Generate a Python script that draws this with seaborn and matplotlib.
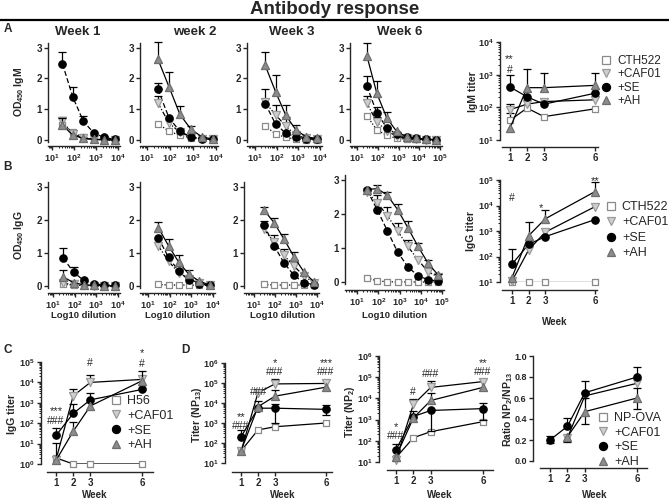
import numpy as np
import pandas as pd
import matplotlib
matplotlib.use("Agg")
import matplotlib.pyplot as plt
import seaborn as sns
from matplotlib.lines import Line2D
from matplotlib import ticker

sns.set_theme(style="ticks")
plt.rcParams['font.family'] = ['Liberation Sans', 'DejaVu Sans']
plt.rcParams['mathtext.fontset'] = 'custom'
plt.rcParams['mathtext.rm'] = 'Liberation Sans:bold'
plt.rcParams['mathtext.bf'] = 'Liberation Sans:bold'
plt.rcParams['mathtext.it'] = 'Liberation Sans:bold'

# ---------------- data ----------------
groups = ["CTH522", "+CAF01", "+SE", "+AH"]
groups_c = ["H56", "+CAF01", "+SE", "+AH"]
groups_d = ["NP-OVA", "+CAF01", "+SE", "+AH"]
dil6 = [30, 90, 270, 810, 2430, 7290]
dil8 = [30, 90, 270, 810, 2430, 7290, 21870, 65610]
weeks = [1, 2, 3, 6]

# A: OD450 IgM (mean, upper error bar end)
igm_w1 = {"CTH522": [0.50, 0.25, 0.08, 0.03, 0.01, 0.0],
          "+CAF01": [0.60, 0.20, 0.05, 0.02, 0.0, 0.0],
          "+SE": [2.47, 1.38, 0.60, 0.22, 0.08, 0.02],
          "+AH": [0.48, 0.15, 0.05, 0.02, 0.01, 0.0]}
igm_w1_err = {"+CAF01": [0.75, None, None, None, None, None],
              "+SE": [2.85, 1.72, 0.77, None, None, None],
              "+AH": [0.70, None, None, None, None, None]}
igm_w2 = {"CTH522": [0.53, 0.28, 0.15, 0.07, 0.03, 0.02],
          "+CAF01": [1.20, 0.55, 0.25, 0.10, 0.04, 0.02],
          "+SE": [1.65, 0.72, 0.28, 0.10, 0.04, 0.02],
          "+AH": [2.62, 1.73, 0.83, 0.35, 0.10, 0.03]}
igm_w2_err = {"+CAF01": [1.42, None, None, None, None, None],
              "+SE": [1.85, None, None, None, None, None],
              "+AH": [3.17, 2.20, 1.10, 0.45, None, None]}
igm_w3 = {"CTH522": [0.45, 0.20, 0.08, 0.03, 0.01, 0.01],
          "+CAF01": [1.22, 0.82, 0.45, 0.15, 0.06, 0.03],
          "+SE": [1.18, 0.52, 0.22, 0.10, 0.03, 0.02],
          "+AH": [2.42, 1.57, 0.80, 0.32, 0.10, 0.05]}
igm_w3_err = {"+CAF01": [1.65, 1.12, 0.75, None, None, None],
              "+AH": [2.85, 2.10, 1.15, 0.50, None, None]}
igm_w6 = {"CTH522": [0.78, 0.33, 0.15, 0.05, 0.03, 0.02, 0.01, 0.0],
          "+CAF01": [1.20, 0.58, 0.30, 0.12, 0.05, 0.02, 0.01, 0.01],
          "+SE": [1.75, 0.88, 0.40, 0.18, 0.08, 0.05, 0.02, 0.01],
          "+AH": [2.73, 1.52, 0.72, 0.28, 0.10, 0.05, 0.02, 0.01]}
igm_w6_err = {"+CAF01": [1.42, 0.75, None, None, None, None, None, None],
              "+SE": [2.07, 1.08, None, None, None, None, None, None],
              "+AH": [3.15, 1.90, 0.90, None, None, None, None, None]}

# A: IgM titer
igm_titer = {"CTH522": [40, 95, 52, 90],
             "+CAF01": [85, 125, 150, 170],
             "+SE": [420, 210, 125, 270],
             "+AH": [23, 400, 400, 470]}
igm_titer_err = {"CTH522": [65, None, None, None],
                 "+CAF01": [125, None, None, None],
                 "+SE": [950, None, None, None],
                 "+AH": [None, 1500, 1100, 1100]}

# B: OD450 IgG
igg_w1 = {"CTH522": [0.05, 0.03, 0.02, 0.01, 0.0, 0.0],
          "+CAF01": [0.08, 0.05, 0.02, 0.01, 0.0, 0.0],
          "+SE": [0.85, 0.42, 0.17, 0.07, 0.03, 0.02],
          "+AH": [0.28, 0.10, 0.04, 0.02, 0.01, 0.0]}
igg_w1_err = {"+SE": [1.15, 0.58, None, None, None, None],
              "+AH": [0.50, None, None, None, None, None]}
igg_w2 = {"CTH522": [0.05, 0.03, 0.03, 0.03, 0.02, 0.02],
          "+CAF01": [1.22, 0.75, 0.40, 0.22, 0.08, 0.03],
          "+SE": [1.46, 0.87, 0.45, 0.17, 0.06, 0.02],
          "+AH": [1.77, 1.22, 0.72, 0.35, 0.15, 0.03]}
igg_w2_err = {"+AH": [1.95, 1.42, 0.93, 0.50, None, None]}
igg_w3 = {"CTH522": [0.05, 0.03, 0.03, 0.03, 0.03, 0.03],
          "+CAF01": [1.72, 1.33, 0.93, 0.60, 0.30, 0.10],
          "+SE": [1.85, 1.22, 0.70, 0.32, 0.10, 0.04],
          "+AH": [2.30, 1.92, 1.42, 0.88, 0.42, 0.12]}
igg_w3_err = {"+CAF01": [None, 1.55, 1.13, 0.80, None, None],
              "+SE": [1.98, None, None, None, None, None],
              "+AH": [2.40, 2.07, 1.58, 1.03, None, None]}
igg_w6 = {"CTH522": [0.12, 0.03, 0.01, 0.0, 0.0, 0.0, 0.0, 0.0],
          "+CAF01": [2.65, 2.33, 1.95, 1.50, 1.05, 0.65, 0.30, 0.15],
          "+SE": [2.70, 2.12, 1.50, 0.88, 0.45, 0.18, 0.07, 0.02],
          "+AH": [2.72, 2.75, 2.55, 2.13, 1.60, 1.05, 0.55, 0.20]}
igg_w6_err = {"+CAF01": [None, 2.55, 2.20, 1.75, 1.25, 0.75, 0.40, None],
              "+AH": [None, 2.85, 2.65, 2.30, 1.80, 1.15, 0.65, 0.25]}

# B: IgG titer
igg_titer = {"CTH522": [10, 10, 10, 10],
             "+CAF01": [11, 180, 900, 9000],
             "+SE": [50, 300, 600, 2800],
             "+AH": [15, 650, 3000, 35000]}
igg_titer_err = {"+SE": [190, None, None, None],
                 "+AH": [None, 2200, 6500, 80000]}

# C: IgG titer (H56)
c_titer = {"H56": [2.0, 1.0, 1.0, 1.0],
           "+CAF01": [1.6, 2200, 10000, 14000],
           "+SE": [25, 300, 1400, 4500],
           "+AH": [1.5, 40, 700, 12000]}
c_titer_err = {"+CAF01": [None, 4500, 22000, None],
               "+SE": [60, 900, 3000, None],
               "+AH": [11, 110, None, 35000]}

# D: NP13 titer, NP2 titer, ratio
np13 = {"NP-OVA": [40, 450, 650, 1000],
        "+CAF01": [38, 33000, 90000, 95000],
        "+SE": [200, 5500, 5500, 4800],
        "+AH": [40, 6500, 22000, 62000]}
np13_err = {"+CAF01": [None, None, 160000, None],
            "+SE": [450, None, 9000, 8000],
            "+AH": [None, 12000, 45000, None]}
np13_lo = {"+SE": [None, None, 1000, 2500]}
np2 = {"NP-OVA": [16, 140, 270, 800],
       "+CAF01": [13, 5200, 33000, 62000],
       "+SE": [38, 1400, 2700, 3300],
       "+AH": [18, 1200, 8000, 33000]}
np2_err = {"+CAF01": [None, 9000, 65000, None],
           "+SE": [70, None, None, 6000],
           "+AH": [None, 2500, 18000, None]}
np2_lo = {"+SE": [None, None, 300, 1000]}
ratio = {"NP-OVA": [None, None, None, None],
         "+CAF01": [None, 0.22, 0.62, 0.74],
         "+SE": [0.20, 0.33, 0.65, 0.80],
         "+AH": [None, 0.23, 0.47, 0.60]}
ratio_err = {"+SE": [0.24, 0.41, 0.76, 0.90],
             "+AH": [None, None, 0.60, 0.70]}
ratio_lo = {"+SE": [0.17, None, None, None],
            "+AH": [None, 0.18, 0.35, 0.50]}

# ---------------- styles ----------------
W, H = 669, 501
fig = plt.figure(figsize=(W / 100, H / 100), dpi=100)

styles = [
    dict(marker='s', mfc='white', mec='#8a8a8a', ms=5.0, ls=(0, (1, 1.5)), z=3),
    dict(marker='v', mfc='#cfcfcf', mec='#9a9a9a', ms=5.8, ls=(0, (4, 1.5, 1, 1.5)), z=4),
    dict(marker='o', mfc='black', mec='black', ms=5.3, ls=(0, (4, 2)), z=5),
    dict(marker='^', mfc='#8c8c8c', mec='#6e6e6e', ms=5.8, ls='-', z=6),
]
TICKFS = 7
BOLD = 'bold'


def px_axes(x0, top, width, bottom):
    return fig.add_axes([x0 / W, 1 - bottom / H, width / W, (bottom - top) / H])


def style_axes(ax, offset_px):
    sns.despine(ax=ax, offset={'bottom': offset_px * 0.72, 'left': 0})
    ax.spines['left'].set_linewidth(1.0)
    ax.spines['bottom'].set_linewidth(1.0)
    ax.tick_params(axis='both', which='major', length=3, width=1.0, labelsize=TICKFS, pad=1.5)
    ax.tick_params(axis='both', which='minor', length=1.5, width=0.7)
    for lab in ax.get_xticklabels() + ax.get_yticklabels():
        lab.set_fontweight(BOLD)
    ax.set_facecolor('none')
    ax.grid(False)


def draw_series(ax, x, y, st, hi=None, lo=None, dashed=True):
    x = np.asarray(x, float)
    y = np.array([np.nan if v is None else v for v in y], float)
    df = pd.DataFrame({'x': x, 'y': y}).dropna()
    sns.lineplot(data=df, x='x', y='y', ax=ax, color='black', lw=0.9,
                 linestyle=st['ls'] if dashed else '-', zorder=st['z'] - 2,
                 legend=False, errorbar=None)
    for arr in (hi, lo):
        if arr is None:
            continue
        for xi, yi, ei in zip(x, y, arr):
            if ei is None or np.isnan(yi):
                continue
            ax.plot([xi, xi], [yi, ei], color='black', lw=0.9, zorder=st['z'] - 1, clip_on=False)
            ax.plot([xi], [ei], marker='_', ms=5.5, mew=0.9, color='black',
                    zorder=st['z'] - 1, clip_on=False)
    sns.scatterplot(x=df['x'], y=df['y'], ax=ax, marker=st['marker'], s=st['ms'] ** 2,
                    color=st['mfc'], edgecolor=st['mec'], linewidth=0.9, zorder=st['z'],
                    legend=False, clip_on=False)


def dilution_panel(x0, p1, d, xmaxlog, top, bottom, offset, data, errs, dil, gnames):
    lo = 1 - (p1 - x0) / d
    width = (xmaxlog - lo) * d
    ax = px_axes(x0, top, width, bottom)
    for g, st in zip(gnames, styles):
        draw_series(ax, dil, data[g], st, hi=errs.get(g))
    ax.set_xscale('log')
    ax.set_xlim(10 ** lo, 10 ** xmaxlog)
    ax.set_ylim(-0.05, 3.15)
    ax.set_yticks([0, 1, 2, 3])
    ax.set_yticklabels(['0', '1', '2', '3'])
    top_dec = int(round(xmaxlog - 0.1))
    ax.set_xticks([10 ** k for k in range(1, top_dec + 1)])
    ax.xaxis.set_major_formatter(ticker.LogFormatterSciNotation())
    ax.xaxis.set_minor_locator(ticker.LogLocator(subs=np.arange(2, 10), numticks=20))
    ax.xaxis.set_minor_formatter(ticker.NullFormatter())
    ax.set_xlabel('')
    ax.set_ylabel('')
    style_axes(ax, offset)
    ax.tick_params(axis='x', labelsize=6.5)
    return ax


def titer_panel(x0, tick1, pw, top, bottom, offset, yl, spine, data, errs, gnames,
                lows=None, log=True, yticks=None, ylabels=None):
    lo = 1 - (tick1 - x0) / pw
    hi_lim = 6.9
    width = (hi_lim - lo) * pw
    ax = px_axes(x0, top, width, bottom)
    for g, st in zip(gnames, styles):
        draw_series(ax, weeks, data[g], st, hi=errs.get(g),
                    lo=(lows or {}).get(g), dashed=False)
    ax.set_xlim(lo, hi_lim)
    if log:
        ax.set_yscale('log')
    ax.set_ylim(*yl)
    if yticks is not None:
        ax.set_yticks(yticks)
    if ylabels is not None:
        ax.set_yticklabels(ylabels)
    if log:
        ax.yaxis.set_major_formatter(ticker.LogFormatterSciNotation())
        ax.yaxis.set_minor_locator(ticker.LogLocator(subs=np.arange(2, 10), numticks=20))
        ax.yaxis.set_minor_formatter(ticker.NullFormatter())
    ax.set_xticks(weeks)
    ax.set_xticklabels([str(w) for w in weeks])
    ax.set_xlabel('')
    ax.set_ylabel('')
    style_axes(ax, offset)
    ax.spines['bottom'].set_bounds(*spine)
    ax.tick_params(axis='y', labelsize=6.5)
    return ax


def ftext(x, y, s, **kw):
    kw.setdefault('ha', 'center')
    kw.setdefault('va', 'center')
    fig.text(x / W, 1 - y / H, s, **kw)


# ---------------- title ----------------
ftext(335, 9, 'Antibody response', fontsize=13.5, fontweight='bold')
fig.add_artist(Line2D([0, 1], [1 - 20 / H, 1 - 20 / H], color='black', lw=1.6))

# ---------------- row A ----------------
dilution_panel(48, 52, 22, 4.1, 43, 141.5, 4.5, igm_w1, igm_w1_err, dil6, groups)
dilution_panel(140, 147, 23, 4.1, 43, 141.5, 4.5, igm_w2, igm_w2_err, dil6, groups)
dilution_panel(247, 255, 21.5, 4.1, 43, 141.5, 4.5, igm_w3, igm_w3_err, dil6, groups)
dilution_panel(350, 357, 20.75, 5.1, 43, 141.5, 4.5, igm_w6, igm_w6_err, dil8, groups)
for x, t in ((78, 'Week 1'), (195, 'week 2'), (292, 'Week 3'), (400, 'Week 6')):
    ftext(x, 32, t, fontsize=9.5, fontweight='bold')
ftext(8, 29, 'A', fontsize=8.5, fontweight='bold')
ftext(19, 92, r'OD$_{450}$ IgM', fontsize=7.5, fontweight='bold', rotation=90)

titer_panel(500, 510, 17, 42, 140, 7, (10, 1e4), (0.5, 6.2), igm_titer, igm_titer_err,
            groups, yticks=[10, 100, 1000, 10000])
ftext(473, 92, 'IgM titer', fontsize=7.5, fontweight='bold', rotation=90)
ftext(509.5, 59, '**', fontsize=8)
ftext(509.5, 70, '#', fontsize=7.5)

# ---------------- row B ----------------
dilution_panel(48, 53, 21.5, 4.1, 182, 287.7, 5.3, igg_w1, igg_w1_err, dil6, groups)
dilution_panel(140, 148, 21.5, 4.1, 182, 287.7, 5.3, igg_w2, igg_w2_err, dil6, groups)
dilution_panel(244, 254, 21, 4.1, 182, 287.7, 5.3, igg_w3, igg_w3_err, dil6, groups)
dilution_panel(345, 357, 21.3, 5.1, 175, 283.7, 6.3, igg_w6, igg_w6_err, dil8, groups)
for x in (84, 178, 283, 395):
    ftext(x, 316, 'Log10 dilution', fontsize=6.8, fontweight='bold')
ftext(8, 167, 'B', fontsize=8.5, fontweight='bold')
ftext(19, 235, r'OD$_{450}$ IgG', fontsize=7.5, fontweight='bold', rotation=90)

titer_panel(500, 512, 16.6, 180, 282, 8, (10, 1e5), (0.4, 6.12), igg_titer, igg_titer_err,
            groups, yticks=[10, 100, 1000, 1e4, 1e5])
ftext(471, 231, 'IgG titer', fontsize=7.5, fontweight='bold', rotation=90)
ftext(555, 322, 'Week', fontsize=7, fontweight='bold')
ftext(512, 198, '#', fontsize=7.5)
ftext(541, 208, '*', fontsize=8)
ftext(595, 181, '**', fontsize=8)

# ---------------- row C ----------------
titer_panel(41, 56, 17.2, 362, 464, 8, (1, 1e5), (0.48, 6.64), c_titer, c_titer_err,
            groups_c, yticks=[1, 10, 100, 1000, 1e4, 1e5])
ftext(8, 350, 'C', fontsize=8.5, fontweight='bold')
ftext(12, 414, 'IgG titer', fontsize=7.5, fontweight='bold', rotation=90)
ftext(95, 495, 'Week', fontsize=7, fontweight='bold')
ftext(56, 411, '***', fontsize=8)
ftext(56, 421, '###', fontsize=7.5)
ftext(90, 363, '#', fontsize=7.5)
ftext(142, 353, '*', fontsize=8)
ftext(142, 364, '#', fontsize=7.5)

# ---------------- row D ----------------
titer_panel(225, 241, 17, 363, 463, 9, (10, 1e6), (0.47, 6.35), np13, np13_err,
            groups_d, lows=np13_lo, yticks=[10, 100, 1000, 1e4, 1e5, 1e6])
ftext(185, 350, 'D', fontsize=8.5, fontweight='bold')
ftext(197, 415, r'Titer (NP$_{13}$)', fontsize=7.5, fontweight='bold', rotation=90)
ftext(283, 495, 'Week', fontsize=7, fontweight='bold')
ftext(241, 417, '**', fontsize=8)
ftext(241, 426, '###', fontsize=7.5)
ftext(259, 392, '###', fontsize=7.5)
ftext(275, 363, '*', fontsize=8)
ftext(275, 372, '###', fontsize=7.5)
ftext(326, 363, '***', fontsize=8)
ftext(326, 372, '###', fontsize=7.5)

titer_panel(379, 396, 17.4, 356, 462, 8, (10, 1e6), (0.48, 6.57), np2, np2_err,
            groups_d, lows=np2_lo, yticks=[10, 100, 1000, 1e4, 1e5, 1e6])
ftext(350, 412, r'Titer (NP$_{2}$)', fontsize=7.5, fontweight='bold', rotation=90)
ftext(440, 495, 'Week', fontsize=7, fontweight='bold')
ftext(396, 427, '*', fontsize=8)
ftext(396, 436, '###', fontsize=7.5)
ftext(413, 392, '#', fontsize=7.5)
ftext(431, 374, '###', fontsize=7.5)
ftext(483, 363, '**', fontsize=8)
ftext(483, 372, '###', fontsize=7.5)

titer_panel(533, 550, 17.4, 356, 461, 7, (0, 1.0), (0.43, 6.57), ratio, ratio_err,
            groups_d, lows=ratio_lo, log=False, yticks=[0, 0.2, 0.4, 0.6, 0.8, 1.0],
            ylabels=['0.0', '0.2', '0.4', '0.6', '0.8', '1.0'])
ftext(508, 410, r'Ratio NP$_{2}$/NP$_{13}$', fontsize=7.5, fontweight='bold', rotation=90)
ftext(595, 495, 'Week', fontsize=7, fontweight='bold')


# ---------------- legends ----------------
def make_legend(names, x, y, fs=8.5, spacing=0.15):
    handles = [Line2D([], [], ls='none', marker=st['marker'], mfc=st['mfc'], mec=st['mec'],
                      ms=st['ms'] * 1.1, mew=0.9) for st in styles]
    fig.legend(handles, names, loc='upper left', bbox_to_anchor=(x / W, 1 - y / H),
               frameon=False, fontsize=fs, handlelength=0.9, handletextpad=0.45,
               labelspacing=spacing, borderpad=0, borderaxespad=0)


make_legend(groups, 601, 55, fs=8.5, spacing=0.12)
make_legend(groups, 605, 201, fs=9, spacing=0.28)
make_legend(groups_c, 110, 395, fs=9, spacing=0.22)
make_legend(groups_d, 597, 412, fs=9, spacing=0.22)

fig.savefig('out.png', dpi=100)
